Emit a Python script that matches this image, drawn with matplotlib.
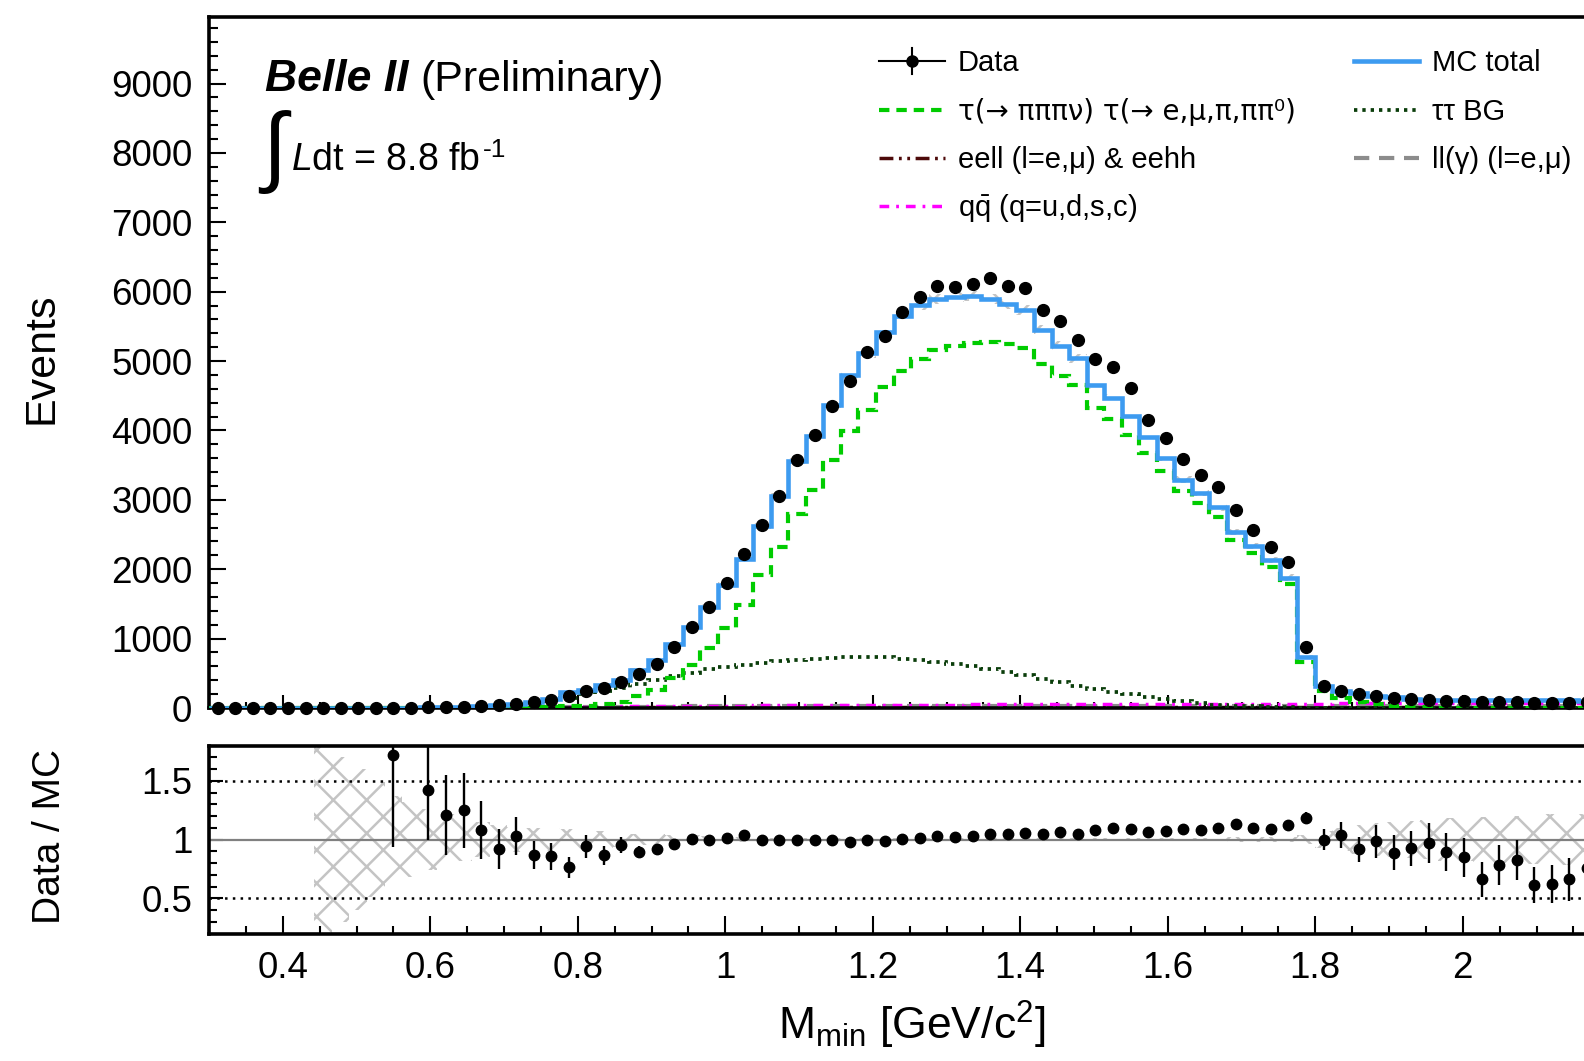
import numpy as np
import matplotlib
matplotlib.use("Agg")
import matplotlib.pyplot as plt
from matplotlib.lines import Line2D
from matplotlib.ticker import MultipleLocator, FixedLocator, FuncFormatter

plt.rcParams['font.family'] = ['Liberation Sans', 'DejaVu Sans']
plt.rcParams['mathtext.fontset'] = 'custom'
plt.rcParams['mathtext.rm'] = 'Liberation Sans'
plt.rcParams['mathtext.it'] = 'Liberation Sans:italic'
plt.rcParams['mathtext.bf'] = 'Liberation Sans:bold'
plt.rcParams['lines.scale_dashes'] = False
plt.rcParams['hatch.linewidth'] = 1.8

# binning of M_min [GeV/c^2]
bin_lo = 0.3
bin_width = 0.0238
n_bins = 80

# data events per bin
data_events = [
    0, 0, 0, 0, 0, 0, 0, 0, 0, 0,
    5, 0, 12, 15, 20, 30, 40, 62, 80, 115,
    175, 240, 290, 380, 486, 640, 880, 1168, 1457, 1808,
    2226, 2635, 3053, 3572, 3933, 4356, 4716, 5135, 5365, 5712,
    5918, 6087, 6063, 6111, 6202, 6082, 6058, 5731, 5577, 5303,
    5024, 4918, 4606, 4149, 3885, 3582, 3365, 3183, 2861, 2572,
    2317, 2106, 875, 320, 250, 200, 170, 140, 125, 118,
    105, 98, 80, 92, 93, 75, 72, 72, 80, 75]

mc_total = [
    0, 0, 0, 0, 0, 0, 1, 1.5, 2, 2.5,
    3, 4, 8.5, 12, 16, 28, 43, 60, 92, 134,
    228, 254, 334, 399, 548, 690, 924, 1168, 1462, 1778,
    2147, 2625, 3060, 3566, 3925, 4370, 4800, 5110, 5415, 5655,
    5805, 5890, 5925, 5940, 5900, 5820, 5737, 5450, 5225, 5040,
    4656, 4467, 4212, 3906, 3605, 3288, 3100, 2890, 2535, 2335,
    2130, 1878, 740, 322, 240, 218, 172, 158, 135, 121,
    117, 116, 121, 117, 112, 122, 116, 109, 105, 100]

# tau(-> pi pi pi nu) tau(-> e, mu, pi, pi pi0)
signal = [
    0, 0, 0, 0, 0, 0, 0, 0, 0, 0,
    0, 0, 0, 0, 0, 1, 2, 4, 6, 12,
    25, 35, 55, 80, 170, 260, 430, 620, 870, 1150,
    1480, 1920, 2320, 2800, 3140, 3575, 3990, 4300, 4620, 4860,
    5030, 5160, 5220, 5265, 5270, 5240, 5190, 4960, 4790, 4650,
    4320, 4160, 3940, 3680, 3415, 3130, 2960, 2760, 2420, 2230,
    2030, 1785, 660, 240, 140, 90, 55, 35, 20, 12,
    7, 4, 3, 3, 2, 2, 2, 2, 1, 1]

tau_bg = [
    0, 0, 0, 0, 0, 0, 0, 0, 0, 0,
    0, 0, 0, 2, 5, 10, 20, 40, 65, 105,
    150, 200, 250, 290, 350, 405, 460, 510, 555, 590,
    625, 652, 676, 695, 710, 720, 730, 735, 728, 710,
    690, 665, 640, 606, 560, 515, 470, 420, 370, 322,
    275, 235, 195, 160, 125, 95, 70, 50, 35, 25,
    16, 10, 6, 4, 3, 3, 2, 2, 2, 2,
    1, 1, 1, 1, 1, 1, 1, 1, 1, 1]

eell_eehh = [
    0, 0, 0, 0, 0, 0, 0, 0, 0, 0,
    0, 0, 1, 1, 1, 2, 2, 3, 3, 4,
    5, 6, 7, 8, 9, 10, 10, 10, 10, 10,
    10, 10, 10, 10, 10, 10, 10, 10, 10, 10,
    10, 10, 10, 10, 10, 10, 10, 10, 10, 10,
    10, 10, 10, 10, 10, 10, 10, 10, 10, 10,
    10, 10, 10, 10, 10, 10, 10, 10, 10, 10,
    10, 10, 10, 10, 10, 10, 10, 10, 10, 10]

ll_gamma = [
    0, 0, 0, 0, 0, 0, 0, 0, 0, 0,
    1, 1, 1, 2, 2, 3, 4, 5, 6, 8,
    10, 12, 14, 16, 18, 20, 21, 22, 23, 24,
    25, 25, 26, 26, 27, 27, 28, 28, 28, 28,
    28, 28, 28, 28, 28, 28, 28, 28, 28, 28,
    28, 28, 28, 28, 28, 28, 28, 28, 28, 28,
    28, 28, 28, 28, 28, 28, 28, 28, 28, 28,
    28, 28, 28, 28, 28, 28, 28, 28, 28, 28]

qq_bar = [
    0, 0, 0, 0, 0, 0, 0, 0, 1, 1,
    2, 2, 3, 4, 5, 6, 8, 10, 12, 14,
    16, 18, 20, 22, 24, 26, 28, 30, 32, 34,
    36, 38, 40, 41, 42, 43, 44, 45, 46, 47,
    48, 49, 50, 51, 52, 53, 54, 55, 56, 57,
    58, 58, 59, 59, 60, 60, 61, 61, 62, 62,
    63, 63, 64, 64, 65, 65, 66, 66, 67, 67,
    68, 68, 68, 69, 69, 69, 70, 70, 70, 70]

# relative MC uncertainty (hatched band)
mc_rel_err = [
    0, 0, 0, 0, 0, 0, 0.8, 0.7, 0.6, 0.49,
    0.37, 0.32, 0.26, 0.22, 0.18, 0.15, 0.125, 0.11, 0.10, 0.10,
    0.09, 0.08, 0.07, 0.06, 0.05, 0.045, 0.04, 0.035, 0.03, 0.025,
    0.02, 0.015, 0.012, 0.012, 0.012, 0.012, 0.012, 0.012, 0.012, 0.012,
    0.012, 0.012, 0.012, 0.012, 0.012, 0.012, 0.012, 0.012, 0.012, 0.012,
    0.012, 0.012, 0.012, 0.012, 0.012, 0.015, 0.015, 0.015, 0.018, 0.02,
    0.02, 0.025, 0.04, 0.07, 0.10, 0.12, 0.14, 0.15, 0.16, 0.17,
    0.18, 0.18, 0.19, 0.20, 0.20, 0.21, 0.215, 0.22, 0.22, 0.22]

nan = np.nan
ratio = [
    nan, nan, nan, nan, nan, nan, nan, nan, nan, nan,
    1.723, nan, 1.418, 1.21, 1.25, 1.082, 0.92, 1.03, 0.871, 0.857,
    0.764, 0.941, 0.864, 0.955, 0.895, 0.92, 0.958, 1.004, 0.997, 1.017,
    1.037, 1.0, 0.994, 1.0, 1.0, 0.994, 0.98, 1.0, 0.99, 1.008,
    1.017, 1.031, 1.023, 1.028, 1.051, 1.045, 1.056, 1.051, 1.065, 1.051,
    1.079, 1.101, 1.093, 1.062, 1.075, 1.09, 1.085, 1.102, 1.13, 1.102,
    1.087, 1.125, 1.183, 0.997, 1.04, 0.915, 0.985, 0.888, 0.924, 0.972,
    0.895, 0.847, 0.66, 0.787, 0.828, 0.615, 0.622, 0.66, 0.758, 0.75]

ratio_err = [
    0, 0, 0, 0, 0, 0, 0, 0, 0, 0,
    0.79, 0, 0.42, 0.34, 0.32, 0.245, 0.17, 0.165, 0.12, 0.115,
    0.09, 0.10, 0.08, 0.07, 0.05, 0.04, 0.03, 0.03, 0.025, 0.02,
    0.02, 0.02, 0.02, 0.02, 0.02, 0.02, 0.02, 0.02, 0.02, 0.02,
    0.02, 0.02, 0.02, 0.02, 0.02, 0.02, 0.02, 0.02, 0.02, 0.02,
    0.02, 0.02, 0.02, 0.02, 0.02, 0.02, 0.02, 0.02, 0.02, 0.02,
    0.02, 0.025, 0.05, 0.09, 0.11, 0.11, 0.14, 0.15, 0.15, 0.17,
    0.16, 0.17, 0.15, 0.17, 0.17, 0.155, 0.16, 0.18, 0.18, 0.18]

x_tick_values = [0.4, 0.6, 0.8, 1.0, 1.2, 1.4, 1.6, 1.8, 2.0]

edges = bin_lo + bin_width * np.arange(n_bins + 1)
centers = 0.5 * (edges[1:] + edges[:-1])
data = np.array(data_events, dtype=float)
mc = np.array(mc_total, dtype=float)
rel = np.array(mc_rel_err)

W, H = 1584, 1061
fig = plt.figure(figsize=(W / 100, H / 100), dpi=100)


def fx(x):
    return x / W


def fy(y):
    return 1 - y / H


x_min, x_max = 0.3, 2.2
ax_w = (x_max - x_min) * 737.5 / W
ax = fig.add_axes([fx(209), fy(708), ax_w, (708 - 17) / H])
rax = fig.add_axes([fx(209), fy(933.5), ax_w, (933.5 - 745.5) / H])

c_mc = '#3d9bf0'
c_sig = '#00cc00'
c_taubg = '#0a3d0a'
c_eell = '#4d0a0a'
c_ll = '#8c8c8c'
c_qq = '#ff00ff'
ls_sig = (0, (7.5, 5))
ls_taubg = (0, (2.4, 3.6))
ls_eell = (0, (10, 4, 2, 4, 2, 4))
ls_ll = (0, (11, 7))
ls_qq = (0, (7, 5, 2, 5))

band_kw = dict(fill=True, hatch='x', facecolor='none', edgecolor='#c4c4c4', linewidth=0)

# main panel
ax.stairs(mc * (1 + rel), edges, baseline=mc * (1 - rel), zorder=1, **band_kw)
ax.stairs(eell_eehh, edges, baseline=None, color=c_eell, lw=2.5, ls=ls_eell, zorder=2)
ax.stairs(ll_gamma, edges, baseline=None, color=c_ll, lw=3, ls=ls_ll, zorder=2)
ax.stairs(qq_bar, edges, baseline=None, color=c_qq, lw=2.5, ls=ls_qq, zorder=2)
ax.stairs(tau_bg, edges, baseline=None, color=c_taubg, lw=2.7, ls=ls_taubg, zorder=3)
ax.stairs(signal, edges, baseline=None, color=c_sig, lw=3, ls=ls_sig, zorder=3)
ax.stairs(mc, edges, baseline=None, color=c_mc, lw=3.3, zorder=4)
ax.errorbar(centers, data, yerr=np.sqrt(data), fmt='o', color='k', ms=8.5,
            lw=1.5, capsize=0, clip_on=False, zorder=5)

# ratio panel
rax.stairs(1 + rel, edges, baseline=1 - rel, zorder=1, **band_kw)
rax.axhline(1, color='#808080', lw=1.6, zorder=2)
for lvl in (0.5, 1.5):
    rax.axhline(lvl, color='k', lw=1.8, ls=(0, (1.8, 3.8)), zorder=2)
rax.errorbar(centers, ratio, yerr=ratio_err, fmt='o', color='k', ms=7.5,
             lw=1.7, capsize=0, zorder=5)

gfmt = FuncFormatter(lambda v, p: f"{v:g}")
for a in (ax, rax):
    a.set_xlim(x_min, x_max)
    a.xaxis.set_major_locator(FixedLocator(x_tick_values))
    a.xaxis.set_minor_locator(MultipleLocator(0.05))
    a.tick_params(which='both', direction='in', top=False, right=False, width=1.5,
                  labelsize=26.5)
    for s in a.spines.values():
        s.set_linewidth(2.6)

ax.set_ylim(0, 9960)
ax.yaxis.set_major_locator(MultipleLocator(1000))
ax.yaxis.set_minor_locator(MultipleLocator(200))
ax.tick_params(axis='y', which='major', length=12, pad=12)
ax.tick_params(axis='y', which='minor', length=6.5)
ax.tick_params(axis='x', which='major', length=9.5, labelbottom=False)
ax.tick_params(axis='x', which='minor', length=4.5)

rax.set_ylim(0.2, 1.8)
rax.yaxis.set_major_locator(MultipleLocator(0.5))
rax.yaxis.set_minor_locator(MultipleLocator(0.1))
rax.yaxis.set_major_formatter(gfmt)
rax.xaxis.set_major_formatter(gfmt)
rax.tick_params(axis='y', which='major', length=10, pad=12)
rax.tick_params(axis='y', which='minor', length=5.5)
rax.tick_params(axis='x', which='major', length=13, pad=12.5)
rax.tick_params(axis='x', which='minor', length=6)

# axis titles
fig.text(fx(41.5), fy(358.6), "Events", rotation=90, ha='center', va='center', fontsize=31)
fig.text(fx(50.5), fy(836), "Data / MC", rotation=90, ha='center', va='center', fontsize=28)
fig.text(fx(912), fy(1040), r"M$_{\mathrm{min}}$ [GeV/c$^{2}$]", ha='center', va='baseline',
         fontsize=32)

# Belle II label and luminosity
fig.text(fx(265), fy(91), "Belle II", fontsize=32, fontweight='bold', fontstyle='italic',
         va='baseline')
fig.text(fx(420), fy(91), "(Preliminary)", fontsize=31, va='baseline')
fig.text(fx(262), fy(152), "\u222b", fontsize=63, va='center', ha='left')
fig.text(fx(291), fy(170), r"$\mathit{L}$dt = 8.8 fb", fontsize=27, va='baseline')
fig.text(fx(483), fy(157), "-1", fontsize=19, va='baseline')

# legend, drawn by hand in two columns
rows = [61, 110, 158, 206]
col1 = (879, 945, 958)
col2 = (1354, 1419, 1432)
entries = [
    (col1, rows[0], "Data", None),
    (col1, rows[1], "τ(→ πππν) τ(→ e,μ,π,ππ\u2070)", dict(color=c_sig, lw=3, ls=ls_sig)),
    (col1, rows[2], "eell (l=e,μ) & eehh", dict(color=c_eell, lw=2.5, ls=ls_eell)),
    (col1, rows[3], r"q$\bar{\mathrm{q}}$ (q=u,d,s,c)", dict(color=c_qq, lw=2.5, ls=ls_qq)),
    (col2, rows[0], "MC total", dict(color=c_mc, lw=3.3, ls='-')),
    (col2, rows[1], "ττ BG", dict(color=c_taubg, lw=2.7, ls=ls_taubg)),
    (col2, rows[2], "ll(γ) (l=e,μ)", dict(color=c_ll, lw=3, ls=ls_ll)),
]
for (x0, x1, xt), y, label, style in entries:
    if style is None:
        xm = 0.5 * (x0 + x1)
        fig.add_artist(Line2D([fx(x0), fx(x1)], [fy(y), fy(y)], color='k', lw=1.5,
                              transform=fig.transFigure))
        fig.add_artist(Line2D([fx(xm), fx(xm)], [fy(y - 13), fy(y + 13)], color='k', lw=1.5,
                              transform=fig.transFigure))
        fig.add_artist(Line2D([fx(xm)], [fy(y)], color='k', marker='o', ms=8,
                              transform=fig.transFigure))
    else:
        fig.add_artist(Line2D([fx(x0), fx(x1)], [fy(y), fy(y)], transform=fig.transFigure,
                              **style))
    if label.startswith("τ("):
        # the arrow of Liberation Sans is tiny, use DejaVu for this entry
        fig.text(fx(xt), fy(y + 10), label, fontsize=20, va='baseline', ha='left',
                 family=['DejaVu Sans'])
    else:
        fig.text(fx(xt), fy(y + 10), label, fontsize=21, va='baseline', ha='left')

fig.savefig("out.png", dpi=100)
